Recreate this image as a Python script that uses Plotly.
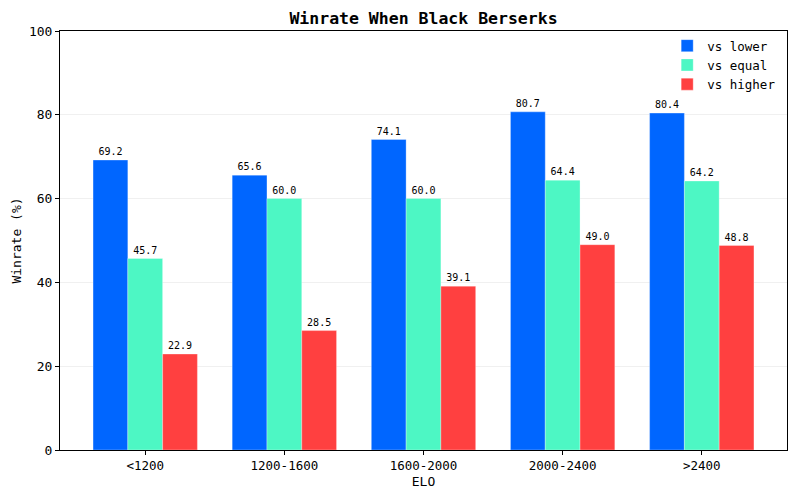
import plotly.graph_objects as go

categories = ["<1200", "1200-1600", "1600-2000", "2000-2400", ">2400"]
vs_lower = [69.2, 65.6, 74.1, 80.7, 80.4]
vs_equal = [45.7, 60.0, 60.0, 64.4, 64.2]
vs_higher = [22.9, 28.5, 39.1, 49.0, 48.8]
series_names = ["vs lower", "vs equal", "vs higher"]
y_ticks = [0, 20, 40, 60, 80, 100]

FONT = "DejaVu Sans Mono"
colors = ["#0066FF", "#4DF7C4", "#FF4040"]

W, H = 784, 484  # page body has an 8px margin

fig = go.Figure()
for name, vals, col in zip(series_names, [vs_lower, vs_equal, vs_higher], colors):
    fig.add_trace(go.Bar(
        x=categories, y=vals, name=name,
        marker=dict(color=col, line=dict(color="rgba(255,255,255,0.5)", width=0.6)),
        text=[f"{v:.1f}" for v in vals],
        textposition="outside",
        textfont=dict(family=FONT, size=10, color="black"),
        cliponaxis=False,
    ))

fig.update_layout(
    width=W, height=H,
    margin=dict(l=52, r=5, t=23, b=42),
    paper_bgcolor="white", plot_bgcolor="white",
    barmode="group", bargap=0.25, bargroupgap=0,
    font=dict(family=FONT, size=12, color="black"),
    title=dict(text="<b>Winrate When Black Berserks</b>", x=(52 + 727 / 2) / W, xanchor="center",
               y=1 - 10 / H, yanchor="middle", font=dict(family=FONT, size=16.5)),
    legend=dict(x=0.992, y=1.0, xanchor="right", yanchor="top",
                bgcolor="rgba(255,255,255,0.8)", bordercolor="rgba(0,0,0,0)",
                font=dict(family=FONT, size=12.5)),
)
fig.update_xaxes(
    range=[-0.6125, 4.6125], showline=True, linecolor="black", linewidth=1, mirror=True,
    ticks="outside", ticklen=4, tickcolor="black", showgrid=False,
    tickfont=dict(family=FONT, size=12.5),
    title=dict(text="ELO", font=dict(family=FONT, size=13), standoff=4),
)
fig.update_yaxes(
    range=[0, 100], tickvals=y_ticks, showline=True, linecolor="black", linewidth=1, mirror=True,
    ticks="outside", ticklen=4, tickcolor="black", showgrid=True, gridcolor="rgba(0,0,0,0.06)",
    zeroline=False, tickfont=dict(family=FONT, size=13),
    title=dict(text="Winrate (%)", font=dict(family=FONT, size=13), standoff=4),
)

fig.write_html("out.html")
